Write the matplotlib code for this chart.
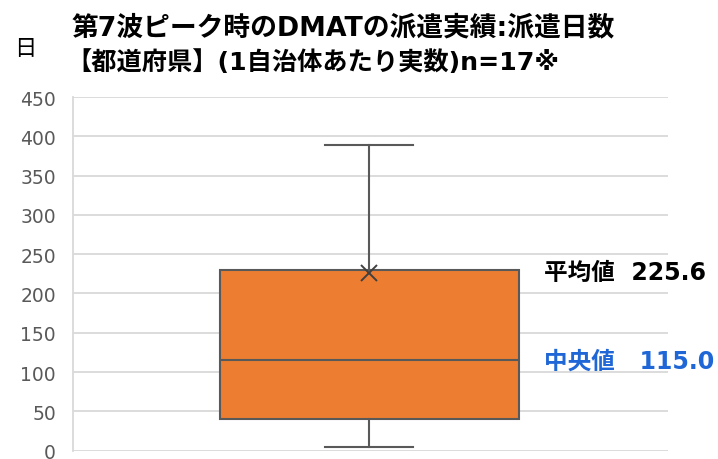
import matplotlib
matplotlib.use("Agg")
import matplotlib.pyplot as plt

# wide Latin glyphs from DejaVu, Japanese from Noto CJK
plt.rcParams['font.family'] = ['DejaVu Sans', 'Noto Sans CJK JP']

# summary values (days, per prefecture, n=17)
whislo = 4
q1 = 40
med = 115.0
q3 = 230
whishi = 389
mean = 225.6
yticks = [0, 50, 100, 150, 200, 250, 300, 350, 400, 450]

fig = plt.figure(figsize=(7.18, 4.6), dpi=100)
# axes box in pixels: left 72.5, right 668, top 98, bottom 451.6
ax = fig.add_axes([72.5/718, (460-451.6)/460, (668-72.5)/718, (451.6-98)/460])

stats = [dict(whislo=whislo, q1=q1, med=med, q3=q3, whishi=whishi, mean=mean, fliers=[])]
ax.bxp(stats, positions=[1], widths=[0.502], showmeans=True, patch_artist=True,
       boxprops=dict(facecolor='#ED7D31', edgecolor='#595959', linewidth=1.5),
       medianprops=dict(color='#595959', linewidth=1.5),
       whiskerprops=dict(color='#595959', linewidth=1.5),
       capprops=dict(color='#595959', linewidth=1.5),
       capwidths=[0.148],
       meanprops=dict(marker='x', markeredgecolor='#404040', markersize=11, markeredgewidth=1.4))

xl = 1 - (369.3 - 72.5) / (519 - 220) * 0.502
xr = 1 + (668 - 369.3) / (519 - 220) * 0.502
ax.set_xlim(xl, xr)
ax.set_ylim(0, 450)
ax.set_yticks(yticks)
ax.set_xticks([])
ax.yaxis.grid(True, color='#d9d9d9', linewidth=1.3)
ax.set_axisbelow(True)
for s in ['top', 'right', 'bottom']:
    ax.spines[s].set_visible(False)
ax.spines['left'].set_color('#d9d9d9')
ax.spines['left'].set_linewidth(1.3)
ax.tick_params(axis='y', length=0, pad=12, labelsize=13.5, labelcolor='#595959')

fig.text(14/718, 1 - 49/460, '日', fontsize=16, va='center', ha='left', color='#000000')
fig.text(72/718, 1 - 28/460, '第7波ピーク時のDMATの派遣実績:派遣日数', fontsize=19.3,
         fontweight='bold', va='center', ha='left')
fig.text(66/718, 1 - 63/460, '【都道府県】(1自治体あたり実数)n=17※', fontsize=18.2,
         fontweight='bold', va='center', ha='left')

ax.annotate(f'平均値  {mean:.1f}', xy=(xr, mean), xycoords='data', xytext=(706, 460 - 273),
            textcoords='figure pixels', ha='right', va='center', fontsize=17,
            fontweight='bold', color='#000000', annotation_clip=False)
ax.annotate(f'中央値   {med:.1f}', xy=(xr, med), xycoords='data', xytext=(714, 460 - 362),
            textcoords='figure pixels', ha='right', va='center', fontsize=17,
            fontweight='bold', color='#1F66D6', annotation_clip=False)

fig.savefig('out.png', dpi=100)
